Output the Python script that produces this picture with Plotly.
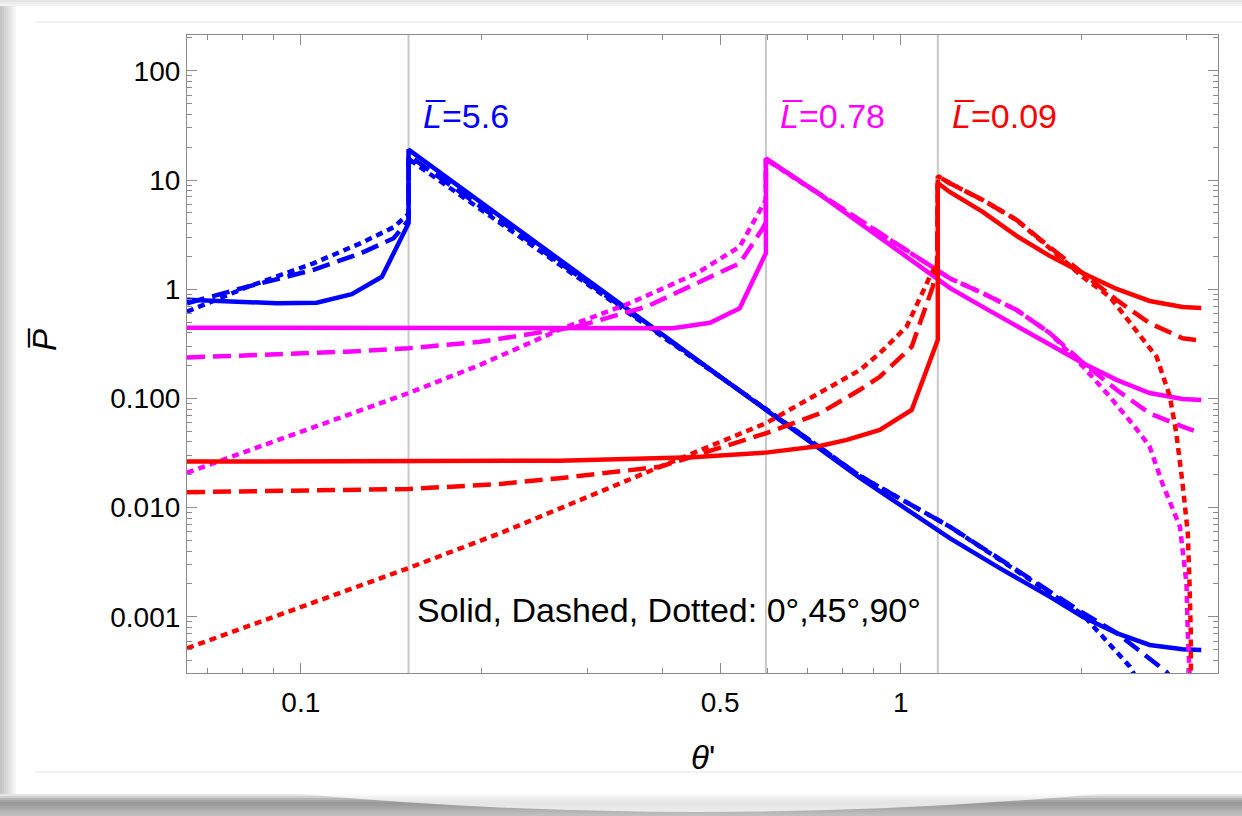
import numpy as np
import plotly.graph_objects as go

# ---- data -------------------------------------------------------------
# critical angles (grey guide lines) and their L-bar values
theta_c = [0.1512, 0.596, 1.153]
L_labels = ["5.6", "0.78", "0.09"]

# L = 5.6 (blue)
b0_x = [0.0646, 0.0714, 0.0912, 0.1063, 0.1216, 0.1365, 0.1512, 0.1512, 0.386, 0.596, 0.855, 1.207, 1.462, 1.771, 2.01, 2.29, 2.60, 2.95, 3.17]
b0_y = [0.80, 0.782, 0.745, 0.754, 0.90, 1.30, 4.02, 19.0, 0.441, 0.0785, 0.0187, 0.00525, 0.00279, 0.00153, 0.00100, 0.000708, 0.000553, 0.000505, 0.000497]
b45_x = [0.0646, 0.0815, 0.1047, 0.1260, 0.1428, 0.1512, 0.1512, 0.386, 0.596, 0.855, 1.207, 2.01, 2.29, 2.77, 3.17]
b45_y = [0.745, 1.056, 1.50, 2.14, 2.93, 4.3, 16.8, 0.432, 0.080, 0.0195, 0.0067, 0.00109, 0.000713, 0.000315, 0.00013]
b90_x = [0.0646, 0.0815, 0.1047, 0.1260, 0.1428, 0.1512, 0.1512, 0.386, 0.596, 0.855, 1.207, 2.01, 2.41, 2.80]
b90_y = [0.624, 1.05, 1.72, 2.65, 3.7, 4.9, 15.6, 0.428, 0.080, 0.0195, 0.0067, 0.00105, 0.00035, 0.00008]

# L = 0.78 (magenta)
m0_x = [0.0646, 0.199, 0.417, 0.481, 0.539, 0.596, 0.596, 0.733, 1.207, 1.370, 1.56, 1.771, 2.01, 2.29, 2.60, 2.95, 3.17]
m0_y = [0.445, 0.44, 0.44, 0.494, 0.67, 2.14, 15.8, 7.4, 1.03, 0.689, 0.461, 0.309, 0.211, 0.148, 0.112, 0.0989, 0.0969]
m45_x = [0.0646, 0.119, 0.151, 0.199, 0.288, 0.377, 0.457, 0.539, 0.589, 0.596, 0.596, 0.888, 1.207, 1.370, 1.56, 1.771, 2.01, 2.29, 2.60, 2.95, 3.17]
m45_y = [0.237, 0.268, 0.288, 0.33, 0.454, 0.693, 1.135, 1.73, 3.62, 4.1, 15.6, 3.74, 1.26, 0.92, 0.646, 0.398, 0.214, 0.12, 0.073, 0.0552, 0.048]
m90_x = [0.0646, 0.151, 0.199, 0.2735, 0.3534, 0.457, 0.539, 0.589, 0.596, 0.596, 0.888, 1.207, 1.370, 1.56, 1.771, 2.01, 2.23, 2.47, 2.60, 2.73, 2.92, 2.995, 3.01, 3.03, 3.035]
m90_y = [0.0209, 0.1116, 0.203, 0.44, 0.745, 1.40, 2.455, 5.92, 6.6, 15.4, 3.74, 1.26, 0.92, 0.646, 0.398, 0.198, 0.104, 0.053, 0.0362, 0.0167, 0.0067, 0.00203, 0.00071, 0.000306, 0.00001]

# L = 0.09 (red)
r0_x = [0.0646, 0.270, 0.45, 0.596, 0.733, 0.813, 0.923, 1.043, 1.153, 1.153, 1.207, 1.370, 1.56, 1.771, 2.01, 2.29, 2.60, 2.95, 3.17]
r0_y = [0.0264, 0.0269, 0.029, 0.0319, 0.0367, 0.0417, 0.0515, 0.0785, 0.344, 9.41, 7.78, 5.11, 3.08, 2.02, 1.41, 1.006, 0.781, 0.689, 0.674]
r45_x = [0.0646, 0.151, 0.215, 0.270, 0.397, 0.596, 0.733, 0.855, 0.923, 1.043, 1.131, 1.150, 1.153, 1.207, 1.370, 1.56, 1.771, 2.01, 2.29, 2.60, 2.95, 3.17]
r45_y = [0.01384, 0.0148, 0.0165, 0.0186, 0.0237, 0.048, 0.073, 0.12, 0.158, 0.298, 1.056, 1.74, 10.9, 9.35, 6.57, 4.31, 2.44, 1.40, 0.798, 0.489, 0.356, 0.338]
r90_x = [0.0646, 0.151, 0.215, 0.270, 0.45, 0.596, 0.733, 0.855, 0.923, 1.023, 1.118, 1.150, 1.153, 1.207, 1.370, 1.56, 1.771, 2.01, 2.23, 2.47, 2.67, 2.81, 2.88, 2.95, 3.01, 3.03, 3.045, 3.05]
r90_y = [0.000515, 0.00279, 0.00583, 0.00988, 0.0315, 0.0593, 0.1116, 0.182, 0.26, 0.455, 1.30, 1.73, 10.9, 9.35, 6.57, 4.31, 2.38, 1.30, 0.855, 0.424, 0.241, 0.104, 0.048, 0.0167, 0.00583, 0.00203, 0.00071, 0.00001]

x_ticks = [0.1, 0.5, 1]
x_ticktext = ["0.1", "0.5", "1"]
x_minor = [0.07, 0.08, 0.09, 0.2, 0.3, 0.4, 0.6, 0.7, 0.8, 0.9, 2, 3]
y_ticks = [0.001, 0.01, 0.1, 1, 10, 100]
y_ticktext = ["0.001", "0.010", "0.100", "1", "10", "100"]
y_minor = [m * 10.0 ** e for e in range(-4, 3) for m in range(2, 10)]

x_range = [0.0646, 3.38]
y_range = [0.000306, 213.0]

BLUE, MAGENTA, RED = "#0000FF", "#FF00FF", "#FF0000"
DASH = "18px,8px"
DOT = "7px,5px"
FONT = "Liberation Sans, Arial, sans-serif"
LW = 4.5

# ---- figure -----------------------------------------------------------
W, H = 1242, 816
L_M, R_M, T_M, B_M = 187, 24, 35, 143
PW, PH = W - L_M - R_M, H - T_M - B_M


def px_x(p):
    return (p - L_M) / PW


def px_y(p):
    return (H - B_M - p) / PH


fig = go.Figure()

# grey guide lines at the critical angles
for tc in theta_c:
    fig.add_trace(go.Scatter(x=[tc, tc], y=[1e-5, 1e4], mode="lines",
                             line=dict(color="#c8c8c8", width=2),
                             hoverinfo="skip", showlegend=False))

series = [
    (b0_x, b0_y, BLUE, "solid"), (b45_x, b45_y, BLUE, DASH), (b90_x, b90_y, BLUE, DOT),
    (m0_x, m0_y, MAGENTA, "solid"), (m45_x, m45_y, MAGENTA, DASH), (m90_x, m90_y, MAGENTA, DOT),
    (r0_x, r0_y, RED, "solid"), (r45_x, r45_y, RED, DASH), (r90_x, r90_y, RED, DOT),
]
for xs, ys, col, dash in series:
    fig.add_trace(go.Scatter(x=xs, y=ys, mode="lines",
                             line=dict(color=col, width=LW, dash=dash),
                             showlegend=False))

axis_common = dict(type="log", showline=True, linecolor="#8a8a8a", linewidth=1.2,
                   mirror="allticks", ticks="inside", ticklen=10, tickcolor="#8a8a8a",
                   tickwidth=1.2, showgrid=False, zeroline=False,
                   tickfont=dict(family=FONT, size=28, color="black"))

fig.update_xaxes(range=[np.log10(x_range[0]), np.log10(x_range[1])],
                 tickmode="array", tickvals=x_ticks, ticktext=x_ticktext,
                 ticklabelstandoff=4,
                 minor=dict(tickmode="array", tickvals=x_minor, ticks="inside",
                            ticklen=5, tickcolor="#8a8a8a", tickwidth=1.2),
                 **axis_common)
fig.update_yaxes(range=[np.log10(y_range[0]), np.log10(y_range[1])],
                 tickmode="array", tickvals=y_ticks, ticktext=y_ticktext,
                 minor=dict(tickmode="array", tickvals=y_minor, ticks="inside",
                            ticklen=5, tickcolor="#8a8a8a", tickwidth=1.2),
                 **axis_common)

annotations = []
for tc, lab, col in zip(theta_c, L_labels, [BLUE, MAGENTA, RED]):
    annotations.append(dict(x=np.log10(tc), y=np.log10(38.6), xref="x", yref="y",
                            text=f"<i>L\u0305</i>={lab}", showarrow=False,
                            xanchor="left", yanchor="middle", xshift=12,
                            font=dict(family=FONT, size=34, color=col)))
annotations.append(dict(x=px_x(415), y=px_y(610), xref="paper", yref="paper",
                        text="Solid, Dashed, Dotted: 0°,45°,90°", showarrow=False,
                        xanchor="left", yanchor="middle",
                        font=dict(family=FONT, size=34, color="black")))
annotations.append(dict(x=0.5, y=px_y(757), xref="paper", yref="paper",
                        text="<i>θ</i>'", showarrow=False,
                        xanchor="center", yanchor="middle",
                        font=dict(family=FONT, size=33, color="black")))
annotations.append(dict(x=px_x(44), y=px_y(340), xref="paper", yref="paper",
                        text="<i>P\u0305</i>", showarrow=False, textangle=-90,
                        xanchor="center", yanchor="middle",
                        font=dict(family=FONT, size=33, color="black")))

# card edges and drop shadow around the figure
shapes = []
shapes.append(dict(type="line", xref="paper", yref="paper", x0=px_x(35), x1=px_x(W),
                   y0=px_y(22), y1=px_y(22), line=dict(color="#ececec", width=1.5), layer="below"))
shapes.append(dict(type="line", xref="paper", yref="paper", x0=px_x(35), x1=px_x(W),
                   y0=px_y(772), y1=px_y(772), line=dict(color="#ececec", width=1.5), layer="below"))
# left shadow
left_greys = ["#c4c4c4", "#cbcbcb", "#d3d3d3", "#dadada", "#e1e1e1", "#e8e8e8", "#efefef", "#f5f5f5"]
for i, g in enumerate(left_greys):
    shapes.append(dict(type="rect", xref="paper", yref="paper",
                       x0=px_x(2 * i), x1=px_x(2 * i + 2), y0=px_y(795), y1=px_y(0),
                       line=dict(width=0), fillcolor=g, layer="below"))
# top shadow
for i, g in enumerate(["#e4e4e4", "#ececec", "#f3f3f3"]):
    shapes.append(dict(type="rect", xref="paper", yref="paper",
                       x0=px_x(0), x1=px_x(W), y0=px_y(2 * i + 2), y1=px_y(2 * i),
                       line=dict(width=0), fillcolor=g, layer="below"))
# bottom shadow band
bottom_greys = ["#e6e6e6", "#cfcfcf", "#b5b5b5", "#a3a3a3", "#999999", "#9c9c9c",
                "#a4a4a4", "#acacac", "#b3b3b3", "#b9b9b9", "#bebebe"]
for i, g in enumerate(bottom_greys):
    shapes.append(dict(type="rect", xref="paper", yref="paper",
                       x0=px_x(0), x1=px_x(W), y0=px_y(794 + 2 * i + 2), y1=px_y(794 + 2 * i),
                       line=dict(width=0), fillcolor=g, layer="below"))
# lighter centre of the curved shadow
shapes.append(dict(type="path", xref="paper", yref="paper",
                   path=(f"M {px_x(300)},{px_y(794)} Q {px_x(700)},{px_y(830)} {px_x(1100)},{px_y(794)} Z"),
                   line=dict(width=0), fillcolor="rgba(255,255,255,0.75)", layer="below"))

fig.update_layout(width=W, height=H, margin=dict(l=L_M, r=R_M, t=T_M, b=B_M),
                  paper_bgcolor="white", plot_bgcolor="white",
                  annotations=annotations, shapes=shapes, showlegend=False)

fig.write_html("out.html")
